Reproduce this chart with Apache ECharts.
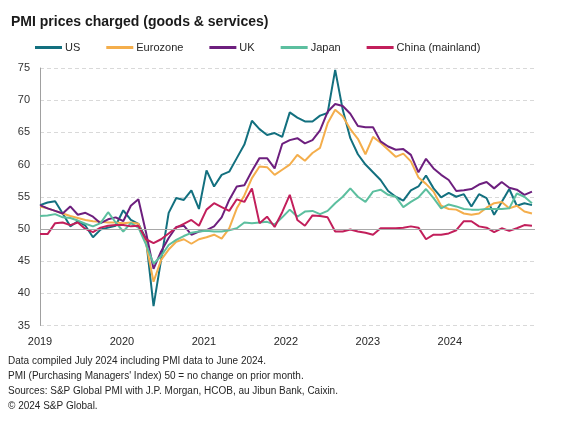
<!DOCTYPE html>
<html>
<head>
<meta charset="utf-8">
<script src="https://cdn.jsdelivr.net/npm/echarts@6/dist/echarts.min.js"></script>
<style>
html,body{margin:0;padding:0;background:#fff;}
#c{width:572px;height:426px;}
</style>
</head>
<body>
<div id="c"></div>
<script>
// Monthly, Jan 2019 .. Jun 2024
const months = [];
for (let y = 2019; y <= 2024; y++) for (let m = 1; m <= 12; m++) if (!(y === 2024 && m > 6)) months.push(y + '-' + String(m).padStart(2, '0'));
const yearLabels = ['2019', '2020', '2021', '2022', '2023', '2024'];
const yTicks = [35, 40, 45, 50, 55, 60, 65, 70, 75];

const us = [53.7,54.1,54.3,52.4,50.4,51.2,50.5,48.7,49.9,50.2,50.5,52.9,51.4,50.8,48.5,38.0,45.2,52.5,54.8,54.5,56.0,53.1,59.1,56.6,58.4,58.9,61.0,63.1,66.8,65.5,64.6,64.9,64.3,68.1,67.3,66.7,66.7,67.6,68.0,74.7,68.5,64.1,61.6,60.0,58.8,57.6,55.9,55.0,54.4,56.0,56.6,58.3,56.3,54.9,55.6,55.0,55.4,53.5,55.4,54.8,52.2,54.2,56.2,53.6,54.0,53.7];
const eurozone = [53.5,53.2,52.8,52.4,52.0,51.7,51.4,51.2,51.1,51.0,51.0,50.9,51.0,50.8,47.8,41.8,45.2,46.8,48.0,48.4,47.7,48.4,48.7,49.1,48.5,50.1,53.2,55.2,57.9,59.7,59.6,58.4,59.2,60.0,61.5,60.6,61.8,62.6,66.4,68.5,67.5,65.5,64.0,61.6,64.3,63.4,62.3,61.2,61.7,60.5,58.0,57.0,55.8,53.6,53.1,53.0,52.4,52.2,52.4,53.3,54.0,54.2,53.2,53.6,52.7,52.4];
const uk = [53.7,53.2,52.8,52.4,53.5,52.2,52.5,51.9,50.9,51.5,51.8,51.2,53.6,54.6,49.5,43.8,46.5,48.6,50.3,50.5,49.1,49.6,49.8,50.4,51.8,54.5,56.6,56.8,59.0,61.0,61.0,59.4,63.2,63.8,64.1,63.3,63.8,65.3,68.2,69.4,69.1,67.9,66.0,65.8,65.8,63.6,62.8,62.3,62.4,61.5,58.8,60.9,59.4,58.4,57.6,55.9,56.0,56.2,56.9,57.3,56.3,57.3,56.4,56.1,55.3,55.8];
const japan = [52.0,52.1,52.3,51.8,51.7,51.3,50.8,50.4,50.9,52.6,51.0,49.6,50.9,50.2,47.6,44.6,45.8,47.5,48.3,48.9,49.4,49.6,49.7,49.6,49.6,49.8,50.1,51.0,50.9,51.0,51.1,50.7,51.8,53.0,51.9,52.7,52.8,52.3,52.8,54.0,55.0,56.3,55.0,54.2,55.8,56.1,55.3,55.0,53.4,54.2,54.9,56.2,54.8,53.2,53.8,53.5,53.1,53.0,53.0,53.1,53.1,53.1,53.2,55.5,55.0,54.0];
const china = [49.2,49.2,50.9,51.0,50.6,51.0,50.0,49.5,50.2,50.5,50.6,50.6,50.4,50.5,48.4,47.8,48.4,49.3,50.2,50.8,51.4,50.5,53.0,54.0,53.4,52.8,54.6,54.2,56.3,50.9,51.9,50.3,52.6,55.3,51.4,50.5,52.1,52.0,51.8,49.6,49.6,49.9,49.6,49.4,49.1,50.1,50.1,50.1,50.2,50.4,50.2,48.4,49.1,49.1,49.3,49.8,51.2,51.2,50.4,50.2,49.5,50.1,49.7,50.1,50.6,50.5];

const seriesNames = ['US', 'Eurozone', 'UK', 'Japan', 'China (mainland)'];
const seriesColors = ['#13707f', '#f4ae4c', '#6d1f7e', '#5cbf9f', '#c21f5b'];
const seriesValues = [us, eurozone, uk, japan, china];

const notes = [
  'Data compiled July 2024 including PMI data to June 2024.',
  "PMI (Purchasing Managers' Index) 50 = no change on prior month.",
  'Sources: S&P Global PMI with J.P. Morgan, HCOB, au Jibun Bank, Caixin.',
  '\u00A9 2024 S&P Global.'
];

const FONT = '"Liberation Sans", Arial, sans-serif';
const chart = echarts.init(document.getElementById('c'), null, {renderer: 'canvas'});

const series = seriesValues.map((vals, k) => ({
  name: seriesNames[k],
  type: 'line',
  xAxisIndex: 0,
  data: vals.map((v, i) => [i, v]),
  showSymbol: false,
  symbol: 'none',
  lineStyle: {width: 2, color: seriesColors[k]},
  itemStyle: {color: seriesColors[k]},
  z: 3,
  animation: false
}));
series[0].markLine = {
  silent: true, symbol: 'none', animation: false,
  label: {show: false},
  lineStyle: {type: 'solid', color: '#a8a8a8', width: 1},
  data: [{yAxis: 50}]
};

const noteTops = [356, 371, 386, 401];

chart.setOption({
  animation: false,
  backgroundColor: '#fff',
  title: {
    text: 'PMI prices charged (goods & services)',
    left: 6, top: 10,
    textStyle: {fontFamily: FONT, fontSize: 14, fontWeight: 'bold', color: '#1a1a1a'}
  },
  legend: {
    left: 35, top: 42, padding: 0,
    itemWidth: 27, itemHeight: 3, itemGap: 26,
    icon: 'rect',
    textStyle: {fontFamily: FONT, fontSize: 11, color: '#262626', padding: [0, 0, 0, -2]},
    data: seriesNames
  },
  grid: {left: 40, right: 37, top: 68, bottom: 100.5, containLabel: false},
  xAxis: [
    {type: 'value', min: 0, max: 65.4, show: true,
     axisLine: {show: false}, axisTick: {show: false}, axisLabel: {show: false}, splitLine: {show: false}},
    {type: 'value', min: 0, max: 6.04, interval: 1, position: 'bottom',
     axisLine: {show: false}, axisTick: {show: false}, splitLine: {show: false},
     axisLabel: {fontFamily: FONT, fontSize: 11, color: '#262626', margin: 11, showMaxLabel: false,
       formatter: v => yearLabels[Math.round(v)] || ''}}
  ],
  yAxis: {
    type: 'value', min: yTicks[0], max: yTicks[yTicks.length - 1], interval: 5,
    axisLine: {show: true, lineStyle: {color: '#a0a0a0', width: 1}},
    axisTick: {show: false},
    axisLabel: {fontFamily: FONT, fontSize: 11, color: '#333', margin: 10},
    splitLine: {show: true, lineStyle: {color: '#d9d9d9', type: [4, 3], width: 1}}
  },
  graphic: notes.map((t, i) => ({
    type: 'text', left: 8, top: noteTops[i],
    style: {text: t, fontFamily: FONT, fontSize: 10, fill: '#262626'}
  })),
  series: series
});
</script>
</body>
</html>
